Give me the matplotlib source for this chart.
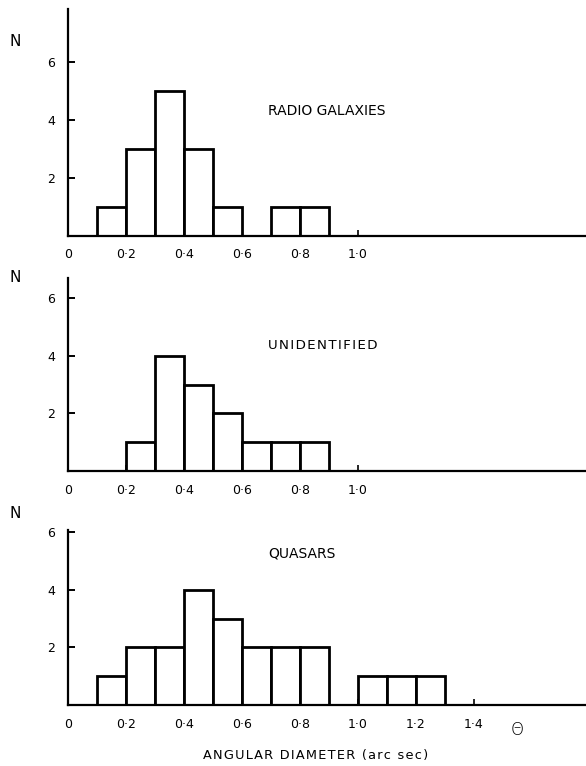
import matplotlib
matplotlib.use("Agg")
import matplotlib.pyplot as plt
import numpy as np

# ---- data ----
radio_bins = [0.1, 0.2, 0.3, 0.4, 0.5, 0.6, 0.7, 0.8]
radio_counts = [1, 3, 5, 3, 1, 0, 1, 1]

unid_bins = [0.2, 0.3, 0.4, 0.5, 0.6, 0.7, 0.8]
unid_counts = [1, 4, 3, 2, 1, 1, 1]

qso_bins = [0.1, 0.2, 0.3, 0.4, 0.5, 0.6, 0.7, 0.8, 0.9, 1.0, 1.1, 1.2]
qso_counts = [1, 2, 2, 4, 3, 2, 2, 2, 0, 1, 1, 1]

y_ticks = [2, 4, 6]
x_ticks_short = [0, 0.2, 0.4, 0.6, 0.8, 1.0]
x_ticks_long = [0, 0.2, 0.4, 0.6, 0.8, 1.0, 1.2, 1.4]

titles = ["RADIO GALAXIES", "UNIDENTIFIED", "QUASARS"]
x_label = "ANGULAR DIAMETER (arc sec)"


def fmt(v):
    return "0" if v == 0 else f"{v:.1f}".replace(".", "\u00b7")


def spaced(s):
    return "\u200a".join(s)


W, H = 586, 766
fig = plt.figure(figsize=(W / 100, H / 100), dpi=100)

ax_left = 68 / W
ax_w = 1 - ax_left

panels = [
    # bins, counts, bottom_px, top_px, ymax, xticks, title_y, letter-spaced
    (radio_bins, radio_counts, 236, 9.5, 7.8, x_ticks_short, 4.31, False),
    (unid_bins, unid_counts, 471, 278, 6.7, x_ticks_short, 4.37, True),
    (qso_bins, qso_counts, 705, 530, 6.07, x_ticks_long, 5.24, False),
]

xmax = (586 - 68) / 290.0
axes = []
for (bins, counts, bpx, tpx, ymax, xt, ty, sp), title in zip(panels, titles):
    ax = fig.add_axes([ax_left, (H - bpx) / H, ax_w, (bpx - tpx) / H])
    b = [x for x, c in zip(bins, counts) if c > 0]
    c = [c for c in counts if c > 0]
    ax.bar(b, c, width=0.1, align="edge", facecolor="white",
           edgecolor="black", linewidth=2.0, zorder=3)
    ax.set_xlim(0, xmax)
    ax.set_ylim(0, ymax)
    for s in ["top", "right"]:
        ax.spines[s].set_visible(False)
    ax.spines["left"].set_linewidth(1.6)
    ax.spines["bottom"].set_linewidth(1.6)
    ax.spines["left"].set_zorder(4)
    ax.spines["bottom"].set_zorder(4)
    ax.set_yticks(y_ticks)
    ax.set_yticklabels([str(v) for v in y_ticks])
    ax.set_xticks(xt)
    ax.set_xticklabels([fmt(v) for v in xt])
    ax.tick_params(axis="y", direction="in", length=5, width=1.4, pad=9,
                   labelsize=9)
    ax.tick_params(axis="x", direction="in", length=4.5, width=1.2, pad=9,
                   labelsize=9)
    if sp:
        ax.text(0.69, ty, spaced(title), fontsize=9.6, va="center", ha="left")
    else:
        ax.text(0.69, ty, title, fontsize=10, va="center", ha="left")
    ax.patch.set_alpha(0)
    axes.append(ax)

# N labels
for ypx in [42, 278, 513]:
    fig.text(15 / W, 1 - ypx / H, "N", fontsize=11, ha="center", va="center")

# theta symbol
axes[2].text(1.55, -0.85, "\u0398", fontsize=12, ha="center", va="center",
             fontweight="light")

# x-axis label
fig.text(316 / W, 1 - 755 / H, spaced(x_label),
         fontsize=9.3, ha="center", va="center")

fig.savefig("out.png", dpi=100)
